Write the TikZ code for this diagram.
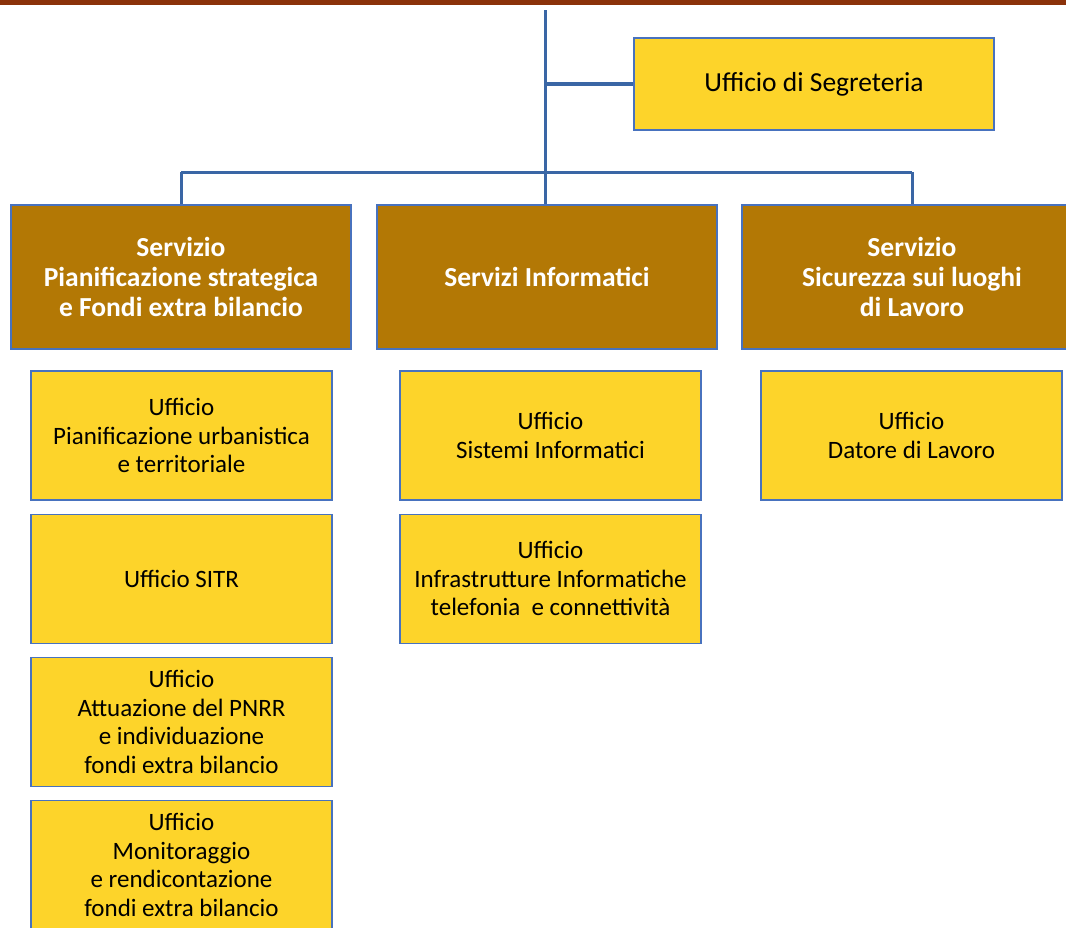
\documentclass[tikz,border=0pt]{standalone}
\usepackage{fontspec}
\setmainfont{Carlito}
\usetikzlibrary{positioning}
\definecolor{bandred}{RGB}{139,50,10}
\definecolor{linkblue}{RGB}{58,102,165}
\definecolor{edgeblue}{RGB}{72,114,190}
\definecolor{servgold}{RGB}{179,120,5}
\definecolor{uffyellow}{RGB}{253,212,42}

\begin{document}
\begin{tikzpicture}[
        x=1pt, y=-1pt,
        node distance=13pt,
        servbox/.style={rectangle, draw=edgeblue, line width=1.2pt, fill=servgold, text=white,
            minimum width=340pt, minimum height=144pt, align=center,
            font=\fontsize{27.5}{30}\selectfont\bfseries},
        uffbox/.style={rectangle, draw=edgeblue, line width=1.2pt, fill=uffyellow,
            minimum width=301pt, minimum height=129pt, align=center,
            font=\fontsize{25}{28.5}\selectfont},
        link/.style={draw=linkblue, line width=3pt}
    ]
        \useasboundingbox (0,0) rectangle (1066,927);
        \fill[bandred] (0,0) rectangle (1066,5);

        % Segreteria
        \node[uffbox, minimum width=360pt, minimum height=92pt, font=\fontsize{27.5}{30}\selectfont] (segr) at (814,84) {Ufficio di Segreteria};

        % Servizi
        \node[servbox] (serv1) at (181,277) {Servizio\\Pianificazione strategica\\e Fondi extra bilancio};
        \node[servbox] (serv2) at (547,277) {Servizi Informatici};
        \node[servbox] (serv3) at (912,277) {Servizio\\Sicurezza sui luoghi\\di Lavoro};

        % Uffici
        \node[uffbox] (pianif) at (181.5,435.5) {Ufficio\\Pianificazione urbanistica\\e territoriale};
        \node[uffbox, below=of pianif] (sitr) {Ufficio SITR};
        \node[uffbox, below=of sitr] (pnrr) {Ufficio\\Attuazione del PNRR\\e individuazione\\ fondi extra bilancio};
        \node[uffbox, below=of pnrr] (monit) {Ufficio\\Monitoraggio\\e rendicontazione\\ fondi extra bilancio};

        \node[uffbox] (sistemi) at (550.5,435.5) {Ufficio\\Sistemi Informatici};
        \node[uffbox, below=of sistemi] (infra) {Ufficio\\Infrastrutture Informatiche\\telefonia \ e connettività};

        \node[uffbox] (datore) at (911.5,435.5) {Ufficio\\Datore di Lavoro};

        % Collegamenti
        \coordinate (top) at (545,10);
        \coordinate (hub) at (545,172);
        \draw[link] (top) -- (top |- serv2.north);
        \draw[link, line width=4.5pt] (top |- segr.west) -- (segr.west);
        \draw[link] (hub -| serv1.north) -- (hub -| serv3.north);
        \draw[link] (hub -| serv1.north) -- (serv1.north);
        \draw[link] (hub -| serv3.north) -- (serv3.north);
    \end{tikzpicture}
\end{document}
